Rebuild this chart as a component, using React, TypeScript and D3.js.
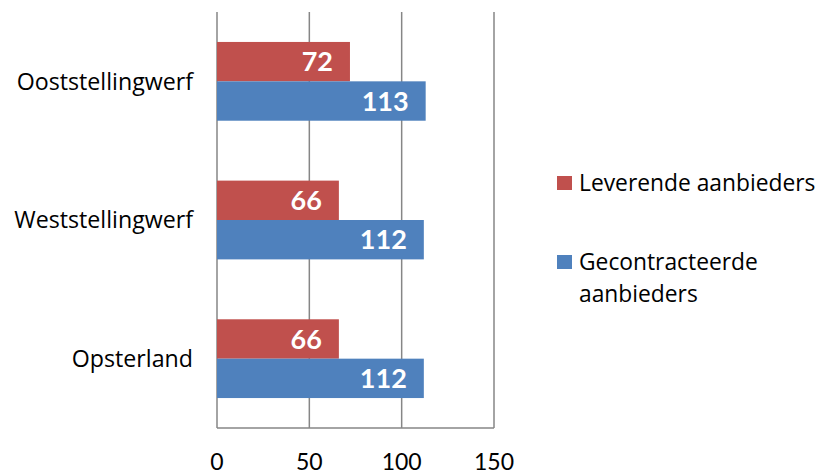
import React from "react";
import * as d3 from "d3";

const categories = ["Ooststellingwerf", "Weststellingwerf", "Opsterland"];
const leverende = [72, 66, 66];
const gecontracteerd = [113, 112, 112];
const xTicks = [0, 50, 100, 150];

const series = [
  { name: ["Leverende aanbieders"], values: leverende, color: "#C0504D" },
  { name: ["Gecontracteerde", "aanbieders"], values: gecontracteerd, color: "#4F81BD" },
];

const font = "'Open Sans', Lato, sans-serif";
const numFont = "Lato, 'Open Sans', sans-serif";

const App: React.FC = () => {
  const width = 822;
  const height = 474;
  const left = 217;
  const right = 494;
  const top = 12;
  const bottom = 428;

  const x = d3.scaleLinear().domain([0, 150]).range([left, right]);
  const y = d3.scaleBand<string>().domain(categories).range([top, bottom]).paddingInner(0.432).paddingOuter(0.216);
  const inner = d3
    .scaleBand<number>()
    .domain(series.map((_, i) => i))
    .range([0, y.bandwidth()]);

  return (
    <svg width={width} height={height} style={{ position: "absolute", left: 0, top: 0 }}>
      {/* gridlines */}
      {xTicks.map((t) => (
        <line key={t} x1={x(t)} x2={x(t)} y1={top} y2={bottom} stroke="#868686" strokeWidth={1.5} />
      ))}
      <line x1={left} x2={right} y1={bottom} y2={bottom} stroke="#868686" strokeWidth={1.5} />

      {categories.map((c, ci) => (
        <g key={c}>
          {series.map((s, si) => {
            const y0 = (y(c) ?? 0) + (inner(si) ?? 0);
            const v = s.values[ci];
            return (
              <g key={si}>
                <rect x={x(0)} y={y0} width={x(v) - x(0)} height={inner.bandwidth()} fill={s.color} />
                <text
                  x={x(v) - 17}
                  y={y0 + inner.bandwidth() / 2}
                  dy="0.36em"
                  textAnchor="end"
                  fill="#fff"
                  fontWeight="bold"
                  fontSize={27}
                  fontFamily={numFont}
                >
                  {v}
                </text>
              </g>
            );
          })}
          <text
            x={193}
            y={(y(c) ?? 0) + y.bandwidth() / 2}
            dy="0.36em"
            textAnchor="end"
            fontSize={23.2}
            fontFamily={font}
            fill="#000"
          >
            {c}
          </text>
        </g>
      ))}

      {xTicks.map((t) => (
        <text key={t} x={x(t)} y={470} textAnchor="middle" fontSize={23} fontFamily={numFont} fill="#000">
          {t}
        </text>
      ))}

      {/* legend */}
      {series.map((s, i) => {
        const ly = i === 0 ? 176 : 255;
        return (
          <g key={i}>
            <rect x={557} y={ly} width={15} height={14} fill={s.color} />
            {s.name.map((line, li) => (
              <text key={li} x={579} y={ly + 15 + li * 32} fontSize={22.8} fontFamily={font} fill="#000">
                {line}
              </text>
            ))}
          </g>
        );
      })}
    </svg>
  );
};

export default App;
